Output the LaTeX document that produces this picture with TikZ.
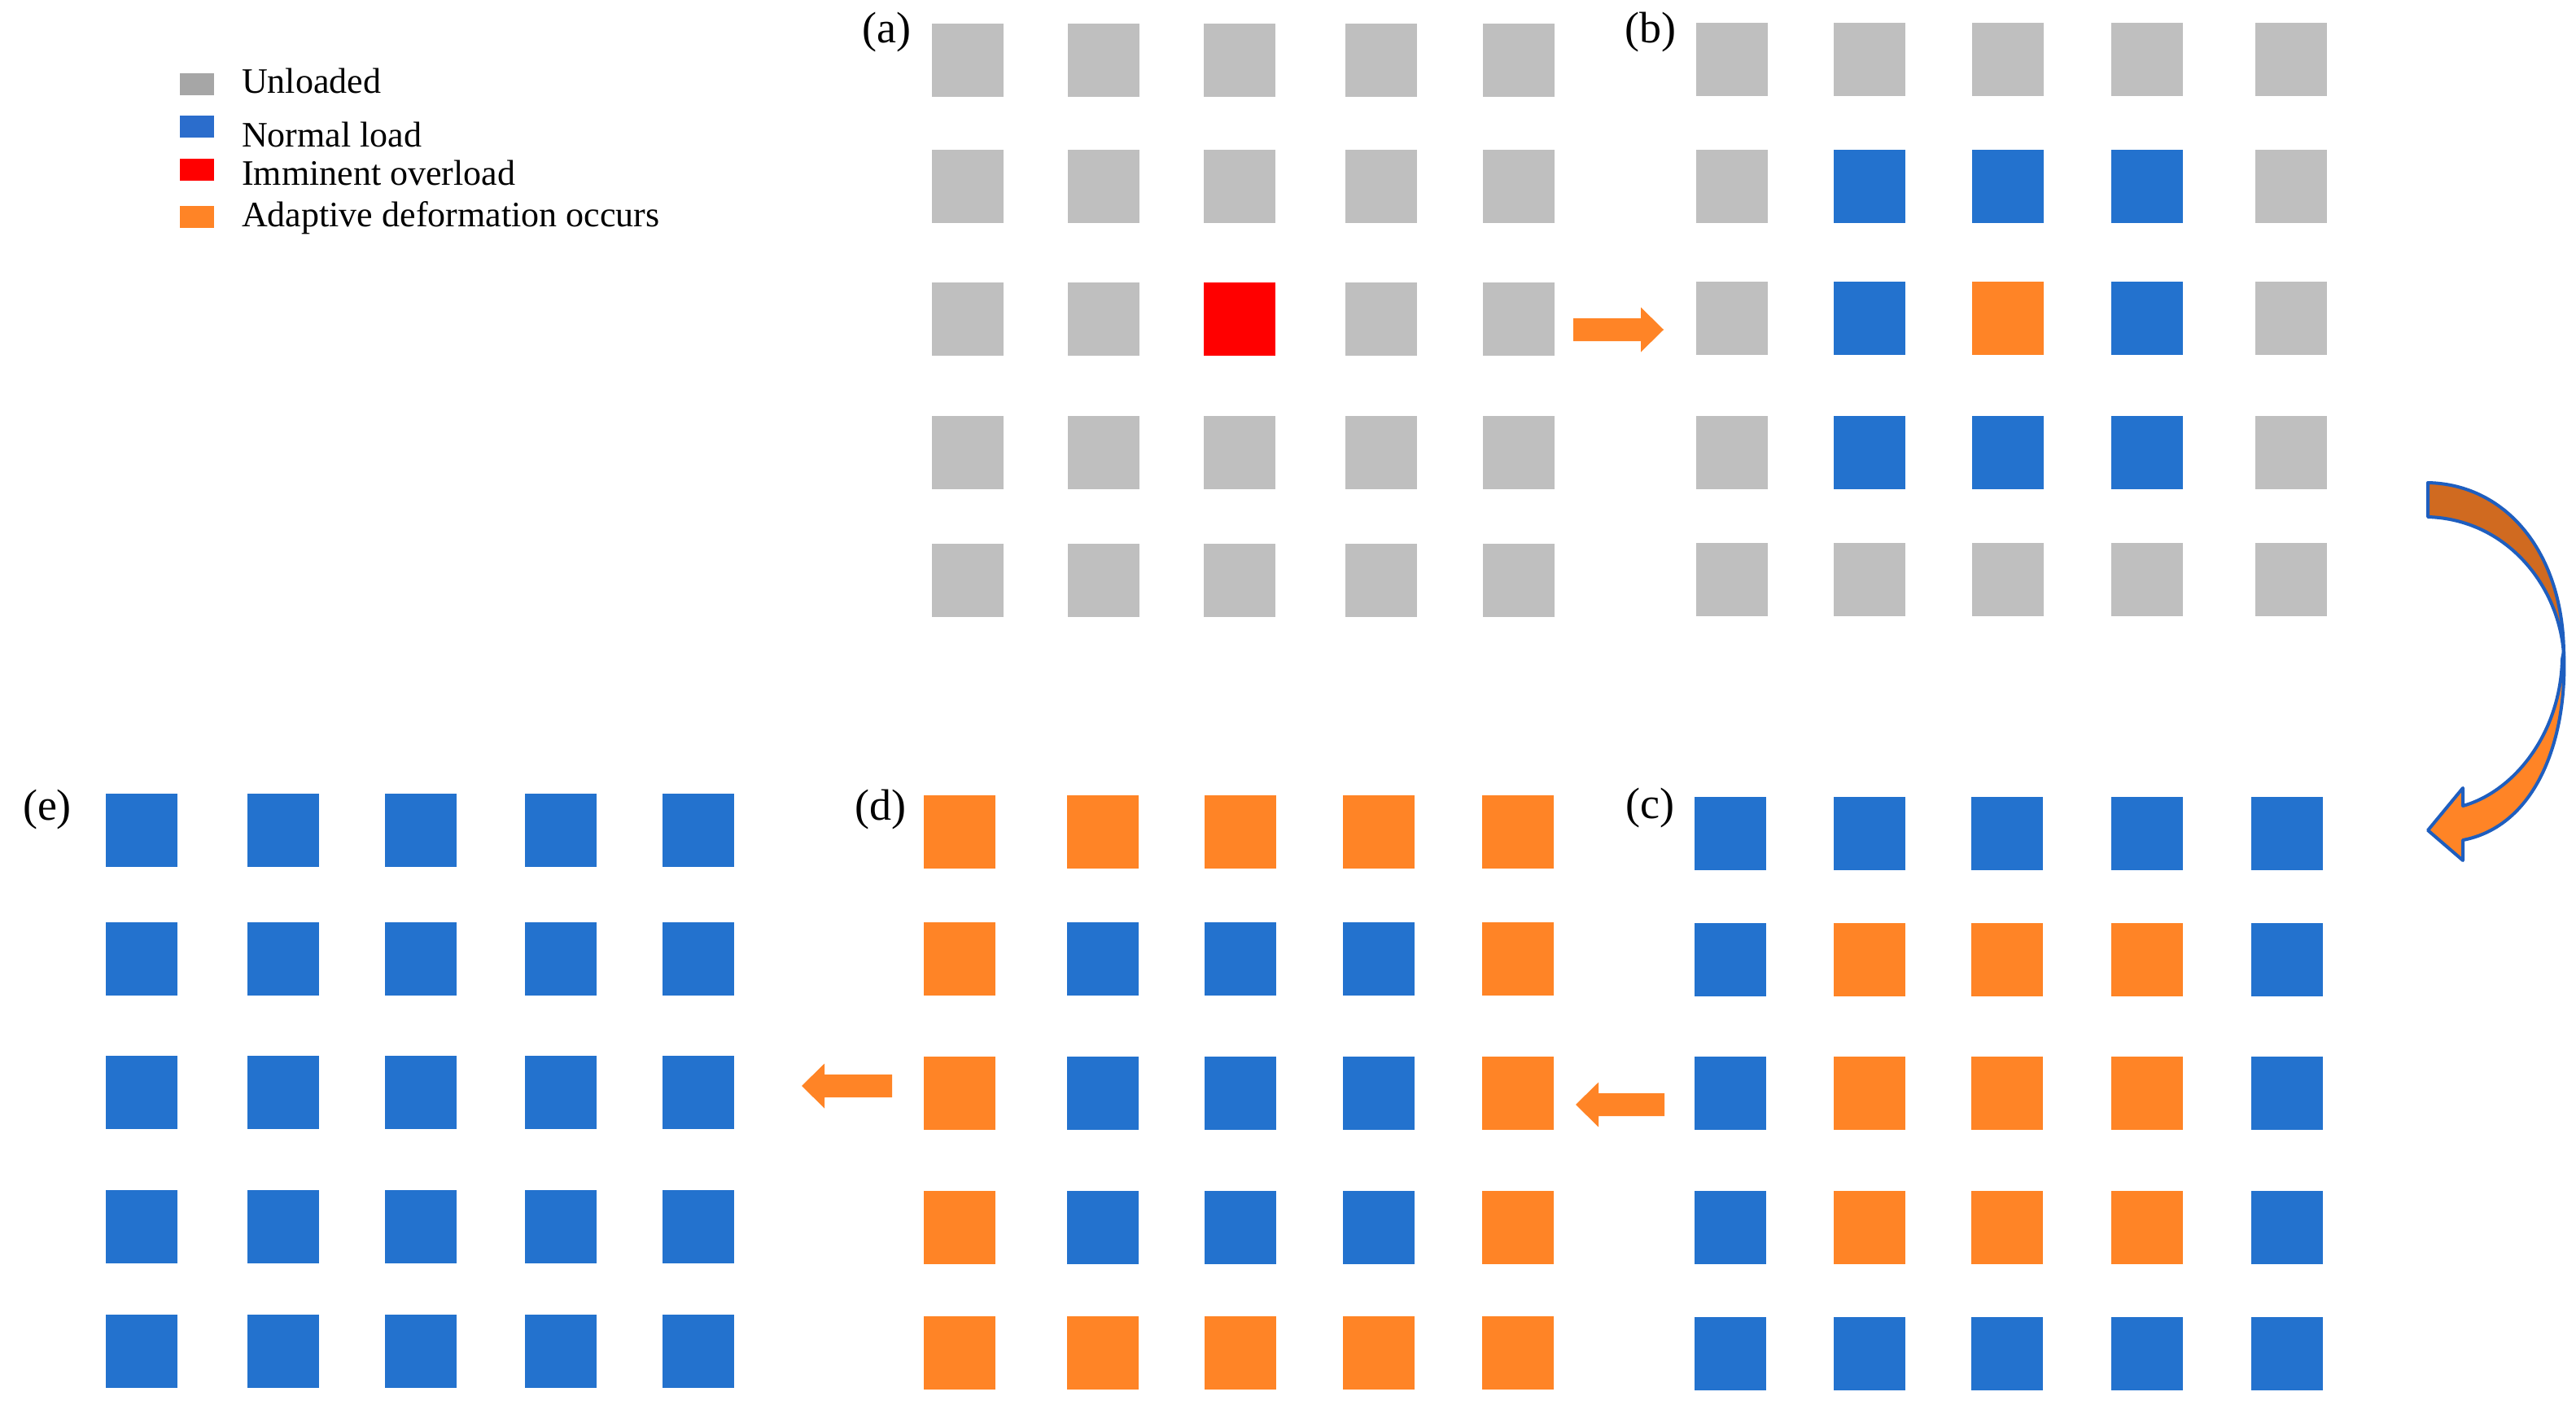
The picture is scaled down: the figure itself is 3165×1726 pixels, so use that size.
\documentclass[tikz,border=0pt]{standalone}
\usepackage{fontspec}
\setmainfont{Liberation Serif}
\usetikzlibrary{calc}
\definecolor{sqgrey}{HTML}{BFBFBF}
\definecolor{sqblue}{HTML}{2372CE}
\definecolor{sqred}{HTML}{FF0000}
\definecolor{sqorange}{HTML}{FF8426}
\definecolor{leggrey}{HTML}{A6A6A6}
\definecolor{legblue}{HTML}{2B6DCC}
\definecolor{darkor}{HTML}{D06A20}
\definecolor{outl}{HTML}{1E5EBF}
\tikzset{
  sq/.style={rectangle, minimum width=88pt, minimum height=90pt, inner sep=0pt, draw=none},
  lab/.style={font=\fontsize{54}{60}\selectfont, inner sep=0pt},
  legtxt/.style={font=\fontsize{44}{50}\selectfont, anchor=base west, inner sep=0pt},
  legsq/.style={rectangle, minimum width=42pt, minimum height=27pt, inner sep=0pt, anchor=north west},
  blk/.style={fill=sqorange},
  curv/.style={draw=outl, line width=4pt, line join=round},
}
\newcommand\blockarrow[2]{%
  \fill[blk] ($(#1)!14pt!90:(#2)$) -- ($($(#2)!28pt!(#1)$)!14pt!-90:(#1)$)
    -- ($($(#2)!28pt!(#1)$)!27.5pt!-90:(#1)$) -- (#2)
    -- ($($(#2)!28pt!(#1)$)!27.5pt!90:(#1)$)
    -- ($($(#2)!28pt!(#1)$)!14pt!90:(#1)$) -- ($(#1)!14pt!-90:(#2)$) -- cycle;}
\begin{document}
\begin{tikzpicture}[x=1pt, y=-1pt]
\useasboundingbox (0,0) rectangle (3165,1726);
\fill[white] (0,0) rectangle (3165,1726);
% legend
\node[legsq, fill=leggrey] (lg1) at (221,90) {};
\node[legsq, fill=legblue] (lg2) at (221,142) {};
\node[legsq, fill=sqred] (lg3) at (221,195) {};
\node[legsq, fill=sqorange] (lg4) at (221,253) {};
\node[legtxt] (lt1) at (297,115) {Unloaded};
\node[legtxt] (lt2) at (297,180) {Normal load};
\node[legtxt] (lt3) at (297,227) {Imminent overload};
\node[legtxt] (lt4) at (297,278) {Adaptive deformation occurs};
% panel labels
\node[lab] (la) at (1089,40) {(a)};
\node[lab] (lb) at (2028,40) {(b)};
\node[lab] (lc) at (2027,993) {(c)};
\node[lab] (ld) at (1082,995) {(d)};
\node[lab] (le) at (58,995) {(e)};
% panel a
\foreach \x [count=\i] in {1145,1312,1479,1653,1822}{
  \foreach \y [count=\j] in {29,184,347,511,668}{
    \ifnum\i=3 \ifnum\j=3 \def\c{sqred}\else\def\c{sqgrey}\fi\else\def\c{sqgrey}\fi
    \node[sq, fill=\c] (a-\j-\i) at (\x+44,\y+45) {};
  }}
% panel b
\foreach \x [count=\i] in {2084,2253,2423,2594,2771}{
  \foreach \y [count=\j] in {28,184,346,511,667}{
    \pgfmathtruncatemacro\inn{(\i>1)*(\i<5)*(\j>1)*(\j<5)}
    \ifnum\inn=1 \def\c{sqblue}\else\def\c{sqgrey}\fi
    \ifnum\i=3 \ifnum\j=3 \def\c{sqorange}\fi\fi
    \node[sq, fill=\c] (b-\j-\i) at (\x+44,\y+45) {};
  }}
% panel c
\foreach \x [count=\i] in {2082,2253,2422,2594,2766}{
  \foreach \y [count=\j] in {979,1134,1298,1463,1618}{
    \pgfmathtruncatemacro\inn{(\i>1)*(\i<5)*(\j>1)*(\j<5)}
    \ifnum\inn=1 \def\c{sqorange}\else\def\c{sqblue}\fi
    \node[sq, fill=\c] (c-\j-\i) at (\x+44,\y+45) {};
  }}
% panel d
\foreach \x [count=\i] in {1135,1311,1480,1650,1821}{
  \foreach \y [count=\j] in {977,1133,1298,1463,1617}{
    \pgfmathtruncatemacro\inn{(\i>1)*(\i<5)*(\j>1)*(\j<5)}
    \ifnum\inn=1 \def\c{sqblue}\else\def\c{sqorange}\fi
    \node[sq, fill=\c] (d-\j-\i) at (\x+44,\y+45) {};
  }}
% panel e
\foreach \x [count=\i] in {130,304,473,645,814}{
  \foreach \y [count=\j] in {975,1133,1297,1462,1615}{
    \node[sq, fill=sqblue] (e-\j-\i) at (\x+44,\y+45) {};
  }}
% block arrows
\coordinate (abS) at (1933,405);
\coordinate (abT) at (2044,405);
\coordinate (cdS) at (2045,1357);
\coordinate (cdT) at (1936,1357);
\coordinate (deS) at (1096,1334);
\coordinate (deT) at (985,1334);
\blockarrow{abS}{abT}
\blockarrow{cdS}{cdT}
\blockarrow{deS}{deT}
% curved arrow b -> c
\filldraw[curv, fill=darkor] (2983,593) .. controls (3080,595) and (3150,680) .. (3150,805)
  .. controls (3145,720) and (3080,638) .. (2983,635) -- cycle;
\filldraw[curv, fill=sqorange] (3150,800) .. controls (3155,910) and (3115,1015) .. (3026,1032)
  -- (3026,1057) -- (2983,1020) -- (3026,968) -- (3026,990)
  .. controls (3090,972) and (3146,900) .. (3148,810) -- cycle;
\end{tikzpicture}
\end{document}
